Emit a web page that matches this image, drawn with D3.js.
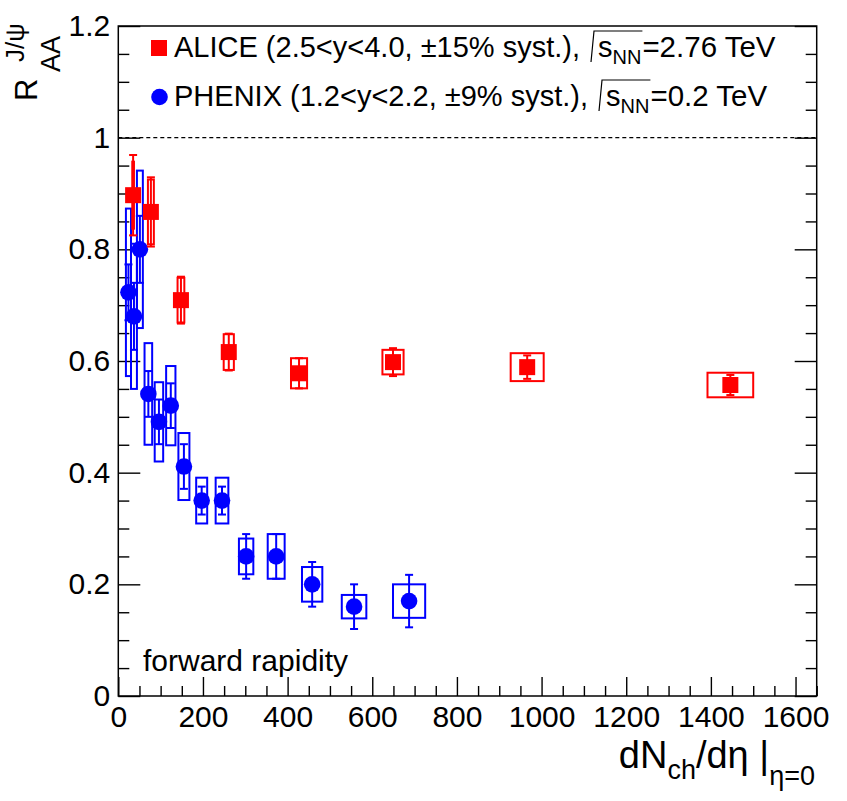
<!DOCTYPE html>
<html>
<head>
<meta charset="utf-8">
<script src="https://cdn.jsdelivr.net/npm/d3@7"></script>
<style>
  body { margin: 0; background: #fff; }
  svg  { font-family: "Liberation Sans", Arial, Helvetica, sans-serif; }
</style>
</head>
<body>
<svg id="chart" width="847" height="801"></svg>
<script>
// ---- data ----
// ALICE, 2.5<y<4.0
const aliceX     = [35, 77, 148, 261, 427, 649, 966, 1446];
const aliceXErr  = [2, 7, 8, 12, 19, 25, 39, 54];
const aliceR     = [0.897, 0.867, 0.709, 0.616, 0.578, 0.598, 0.589, 0.557];
const aliceStat  = [0.072, 0.062, 0.042, 0.033, 0.027, 0.025, 0.021, 0.018];
const aliceSyst  = [0.060, 0.058, 0.040, 0.032, 0.027, 0.022, 0.025, 0.022];

// PHENIX, 1.2<y<2.2
const phenixX    = [24, 37, 51, 71, 96, 124, 155, 197, 245, 302, 373, 458, 557, 687];
const phenixXErr = [6, 7, 7, 9, 10, 11, 13, 13, 15, 17, 20, 24, 29, 38];
const phenixR    = [0.723, 0.680, 0.800, 0.541, 0.491, 0.520, 0.411, 0.350, 0.350, 0.250, 0.250, 0.200, 0.160, 0.170];
const phenixStat = [0.050, 0.060, 0.060, 0.041, 0.040, 0.040, 0.040, 0.025, 0.025, 0.040, 0.040, 0.040, 0.040, 0.047];
const phenixSyst = [0.150, 0.130, 0.141, 0.091, 0.071, 0.071, 0.060, 0.041, 0.041, 0.032, 0.040, 0.031, 0.021, 0.030];

// axes
const xMajor = [0, 200, 400, 600, 800, 1000, 1200, 1400, 1600];
const xMinor = [50, 100, 150, 250, 300, 350, 450, 500, 550, 650, 700, 750, 850, 900, 950,
                1050, 1100, 1150, 1250, 1300, 1350, 1450, 1500, 1550, 1650];
const yMajor = [0, 0.2, 0.4, 0.6, 0.8, 1, 1.2];
const yMinor = [0.05, 0.1, 0.15, 0.25, 0.3, 0.35, 0.45, 0.5, 0.55, 0.65, 0.7, 0.75,
                0.85, 0.9, 0.95, 1.05, 1.1, 1.15];
const xDomain = [0, 1650];
const yDomain = [0, 1.2];

// ---- layout ----
const RED  = "#ff0000",
      BLUE = "#0000ff";
const padL = 118.3, padR = 816.7, padT = 26, padB = 696;

const svg = d3.select("#chart");
const x = d3.scaleLinear().domain(xDomain).range([padL, padR]);
const y = d3.scaleLinear().domain(yDomain).range([padB, padT]);

// lays out pieces of text one after the other, returns end x
function richText(g, x0, y0, parts) {
  let cx = x0;
  parts.forEach(p => {
    const t = g.append("text")
      .attr("x", cx)
      .attr("y", y0 + (p.dy || 0))
      .style("font-size", p.size + "px")
      .text(p.text);
    cx += t.node().getComputedTextLength();
  });
  return { end: cx };
}

// ---- axes (ROOT style: ticks inside) ----
const fmt = d => d === 0 ? "0" : (Number.isInteger(d) ? d3.format("d")(d) : d3.format(".1f")(d));

const gx = svg.append("g").attr("transform", `translate(0,${padB})`);
gx.call(d3.axisBottom(x).tickValues(xMinor).tickSize(-10).tickSizeOuter(0).tickFormat(""));
gx.append("g").call(d3.axisBottom(x).tickValues(xMajor).tickSize(-19).tickSizeOuter(0)
  .tickPadding(10).tickFormat(fmt));

const gy = svg.append("g").attr("transform", `translate(${padL},0)`);
gy.call(d3.axisLeft(y).tickValues(yMinor).tickSize(-11).tickSizeOuter(0).tickFormat(""));
gy.append("g").call(d3.axisLeft(y).tickValues(yMajor).tickSize(-22).tickSizeOuter(0)
  .tickPadding(8).tickFormat(fmt));

const gr = svg.append("g").attr("transform", `translate(${padR},0)`);
gr.call(d3.axisRight(y).tickValues(yMinor).tickSize(-11).tickSizeOuter(0).tickFormat(""));
gr.append("g").call(d3.axisRight(y).tickValues(yMajor).tickSize(-22).tickSizeOuter(0).tickFormat(""));

svg.selectAll(".domain").remove();
svg.selectAll(".tick line").attr("stroke", "#000").attr("stroke-width", 1.4);
svg.selectAll(".tick text")
  .attr("fill", "#000")
  .style("font-size", "30px")
  .style("font-family", "'Liberation Sans', Arial, sans-serif");

// frame
svg.append("rect")
  .attr("x", padL).attr("y", padT)
  .attr("width", padR - padL).attr("height", padB - padT)
  .attr("fill", "none").attr("stroke", "#000").attr("stroke-width", 1.5);

// dashed unity line
svg.append("line")
  .attr("x1", x(xDomain[0])).attr("x2", x(xDomain[1]))
  .attr("y1", y(1)).attr("y2", y(1))
  .attr("stroke", "#000").attr("stroke-width", 1.2)
  .attr("stroke-dasharray", "4,3");

// ---- data series ----
function drawSeries(xs, xe, rs, st, sy, color, marker) {
  const pts = xs.map((d, i) => ({ x: d, xe: xe[i], r: rs[i], st: st[i], sy: sy[i] }));
  const g = svg.append("g");

  // systematic boxes
  g.selectAll("rect.syst").data(pts).join("rect")
    .attr("class", "syst")
    .attr("x", d => x(d.x - d.xe))
    .attr("width", d => x(d.x + d.xe) - x(d.x - d.xe))
    .attr("y", d => y(d.r + d.sy))
    .attr("height", d => y(d.r - d.sy) - y(d.r + d.sy))
    .attr("fill", "none").attr("stroke", color).attr("stroke-width", 2);

  // statistical bars + caps
  g.selectAll("line.stat").data(pts).join("line")
    .attr("class", "stat")
    .attr("x1", d => x(d.x)).attr("x2", d => x(d.x))
    .attr("y1", d => y(d.r + d.st)).attr("y2", d => y(d.r - d.st))
    .attr("stroke", color).attr("stroke-width", 2);
  ["hi", "lo"].forEach(k => {
    g.selectAll(`line.cap${k}`).data(pts).join("line")
      .attr("class", `cap${k}`)
      .attr("x1", d => x(d.x) - 4).attr("x2", d => x(d.x) + 4)
      .attr("y1", d => y(k === "hi" ? d.r + d.st : d.r - d.st))
      .attr("y2", d => y(k === "hi" ? d.r + d.st : d.r - d.st))
      .attr("stroke", color).attr("stroke-width", 2);
  });

  // markers
  if (marker === "square") {
    g.selectAll("rect.mk").data(pts).join("rect")
      .attr("class", "mk")
      .attr("x", d => x(d.x) - 8).attr("y", d => y(d.r) - 8)
      .attr("width", 16).attr("height", 16)
      .attr("fill", color);
  } else {
    g.selectAll("circle.mk").data(pts).join("circle")
      .attr("class", "mk")
      .attr("cx", d => x(d.x)).attr("cy", d => y(d.r))
      .attr("r", 8.3)
      .attr("fill", color);
  }
}

drawSeries(phenixX, phenixXErr, phenixR, phenixStat, phenixSyst, BLUE, "circle");
drawSeries(aliceX, aliceXErr, aliceR, aliceStat, aliceSyst, RED, "square");

// ---- legend ----
const legendRows = [
  { color: RED,  marker: "square", label: "ALICE (2.5<y<4.0, \u00b115% syst.),", energy: "=2.76 TeV" },
  { color: BLUE, marker: "circle", label: "PHENIX (1.2<y<2.2, \u00b19% syst.),",  energy: "=0.2 TeV" }
];
const lg = svg.append("g");
legendRows.forEach((row, i) => {
  const base = 57 + i * 49, cy = base - 9;
  if (row.marker === "square") {
    lg.append("rect").attr("x", 151).attr("y", cy - 8).attr("width", 16).attr("height", 16).attr("fill", row.color);
  } else {
    lg.append("circle").attr("cx", 159.5).attr("cy", cy).attr("r", 8.3).attr("fill", row.color);
  }
  const a = richText(lg, 174, base, [{ text: row.label, size: 29 }]);
  const sx = a.end + 18;
  const b = richText(lg, sx, base, [
    { text: "s", size: 29 },
    { text: "NN", size: 20, dy: 7 }
  ]);
  // square-root sign
  lg.append("path")
    .attr("d", `M${sx - 7},${base + 5} L${sx - 4},${base - 26} L${b.end + 1},${base - 26}`)
    .attr("fill", "none").attr("stroke", "#000").attr("stroke-width", 1.2);
  richText(lg, b.end + 1, base, [{ text: row.energy, size: 29.5 }]);
});

// annotation
svg.append("text")
  .attr("x", 143).attr("y", 671)
  .style("font-size", "30px")
  .text("forward rapidity");

// ---- axis titles ----
// x title, right aligned
const xt = svg.append("g");
const xparts = richText(xt, 0, 768, [
  { text: "dN", size: 38 },
  { text: "ch", size: 27, dy: 11 },
  { text: "/d\u03b7 |", size: 38 },
  { text: "\u03b7=0", size: 27, dy: 17 }
]);
xt.attr("transform", `translate(${815 - xparts.end},0)`);

// y title, rotated (reads bottom to top)
const yt = svg.append("g")
  .attr("transform", "translate(37,101)")
  .append("g")
  .attr("transform", "rotate(-90)");
yt.append("text").attr("x", 0).attr("y", 0).style("font-size", "31px").text("R");
yt.append("text").attr("x", 29).attr("y", 23).style("font-size", "27px").text("AA");
yt.append("text").attr("x", 39).attr("y", -13).style("font-size", "26px").text("J/\u03c8");
</script>
</body>
</html>
